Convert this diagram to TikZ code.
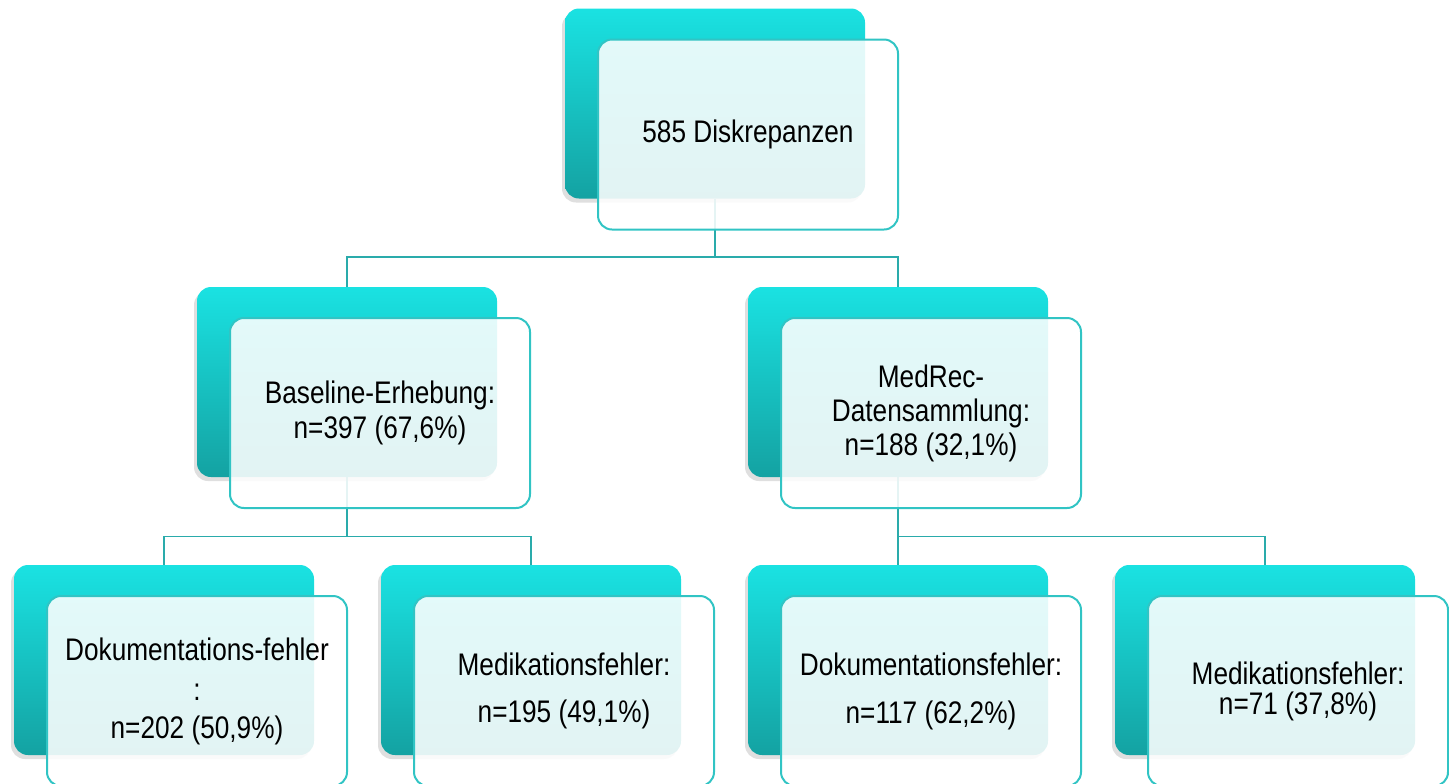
\documentclass[tikz,border=0pt]{standalone}
\usepackage{fontspec}
\setmainfont{Liberation Sans}[FakeStretch=0.84]
\usetikzlibrary{positioning,shadows}
\pgfdeclarelayer{bg}
\pgfsetlayers{bg,main}
\definecolor{tealtop}{HTML}{1AE2E2}
\definecolor{tealbot}{HTML}{14A2A2}
\definecolor{tealline}{HTML}{31C4C4}
\definecolor{linkcol}{HTML}{2AABAB}
\tikzset{
  backbox/.style={rectangle,rounded corners=7pt,minimum width=150pt,minimum height=95pt,
    inner sep=0pt,top color=tealtop,bottom color=tealbot,
    drop shadow={shadow xshift=-1.5pt,shadow yshift=-2pt,opacity=.25}},
  frontbox/.style={rectangle,rounded corners=7pt,minimum width=150pt,minimum height=95pt,
    inner sep=0pt,draw=tealline,line width=1pt,fill=white,fill opacity=.88,
    draw opacity=1,text opacity=1,align=center,
    font=\fontsize{15.6pt}{17pt}\selectfont},
  link/.style={draw=linkcol,line width=.8pt}
}
\begin{document}
\begin{tikzpicture}[x=0.5pt,y=-0.5pt]
\useasboundingbox (0,0) rectangle (1449,783);
% back boxes
\node[backbox] (top) at (715,103.5) {};
\node[backbox] (base) at (347,382) {};
\node[backbox] (medrec) at (898,382) {};
\node[backbox] (dok1) at (164,660) {};
\node[backbox] (med1) at (531,660) {};
\node[backbox] (dok2) at (898,660) {};
\node[backbox] (med2) at (1265,660) {};
% front boxes
\node[frontbox,shift={(33,31)}] (topf) at (top) {585 Diskrepanzen};
\node[frontbox,shift={(33,31)}] (basef) at (base) {Baseline-Erhebung:\\[0.5pt]n=397 (67,6\%)};
\node[frontbox,shift={(33,31)}] (medrecf) at (medrec) {MedRec-\\Datensammlung:\\n=188 (32,1\%)};
\node[frontbox,shift={(33,31)}] (dok1f) at (dok1) {Dokumentations-fehler\\[3pt]:\\[2pt]n=202 (50,9\%)};
\node[frontbox,shift={(33,31)}] (med1f) at (med1) {Medikationsfehler:\\[6.5pt]n=195 (49,1\%)};
\node[frontbox,shift={(33,31)}] (dok2f) at (dok2) {Dokumentationsfehler:\\[7pt]n=117 (62,2\%)};
\node[frontbox,shift={(33,31)}] (med2f) at (med2) {Medikationsfehler:\\[-2pt]n=71 (37,8\%)};
% connectors
\begin{pgfonlayer}{bg}
\path (top.south) ++(0,58) coordinate (j1);
\path (base.south) ++(0,59) coordinate (j2);
\path (medrec.south) ++(0,59) coordinate (j3);
\draw[link] (top.south) -- (j1) -| (base.north);
\draw[link] (j1) -| (medrec.north);
\draw[link] (base.south) -- (j2) -| (dok1.north);
\draw[link] (j2) -| (med1.north);
\draw[link] (medrec.south) -- (dok2.north);
\draw[link] (j3) -| (med2.north);
\end{pgfonlayer}
\end{tikzpicture}
\end{document}
